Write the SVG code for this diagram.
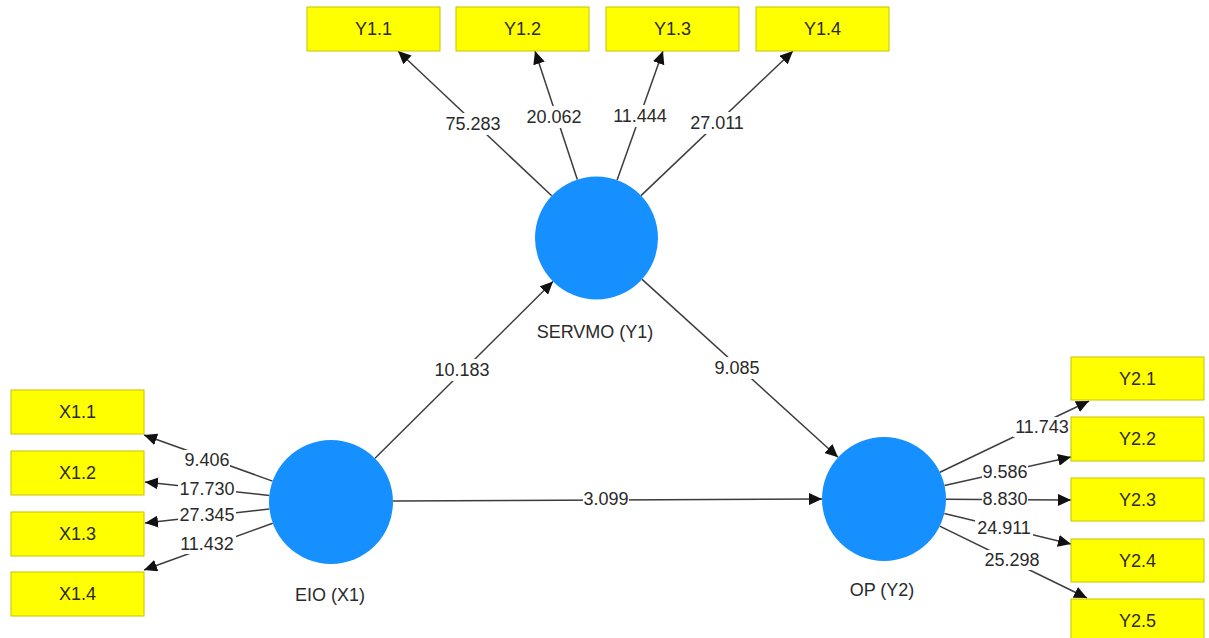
<svg xmlns="http://www.w3.org/2000/svg" width="1209" height="638" viewBox="0 0 1209 638">
  <style>
    text { font-family: "Liberation Sans", Arial, sans-serif; font-size: 18px; fill: #2a2a2a; text-anchor: middle; dominant-baseline: central; }
    .ind rect { fill: #ffff00; stroke: #c8c400; stroke-width: 1; }
    .lv circle { fill: #1690ff; }
    .edge { stroke: #3c3c3c; stroke-width: 1.5; fill: none; marker-end: url(#tip); }
    .bg { fill: #ffffff; }
  </style>
  <defs>
    <marker id="tip" markerUnits="userSpaceOnUse" markerWidth="14" markerHeight="12" refX="13" refY="6" orient="auto">
      <path d="M0,0 L13,6 L0,12 z" fill="#111"/>
    </marker>
  </defs>
  <rect width="1209" height="638" fill="#ffffff"/>

  <!-- connectors: paths, outer loadings, and their value labels -->
  <g id="connectors">
    <!-- structural paths -->
    <line class="edge" x1="375" y1="458.3" x2="553" y2="281.5"/>
    <line class="edge" x1="642.1" y1="279.4" x2="838" y2="457.3"/>
    <line class="edge" x1="393" y1="501" x2="822" y2="499"/>
    <!-- SERVMO (Y1) indicators -->
    <line class="edge" x1="551.7" y1="195.8" x2="398" y2="51"/>
    <line class="edge" x1="577.3" y1="179.6" x2="535" y2="51"/>
    <line class="edge" x1="617.1" y1="180.1" x2="663" y2="51"/>
    <line class="edge" x1="641.0" y1="195.6" x2="793" y2="51"/>
    <!-- EIO (X1) indicators -->
    <line class="edge" x1="272.6" y1="481.1" x2="144" y2="435"/>
    <line class="edge" x1="269.4" y1="495.4" x2="145" y2="482"/>
    <line class="edge" x1="269.4" y1="509.0" x2="145" y2="523"/>
    <line class="edge" x1="272.7" y1="523.2" x2="144" y2="570"/>
    <!-- OP (Y2) indicators -->
    <line class="edge" x1="939.9" y1="472.3" x2="1089" y2="401"/>
    <line class="edge" x1="944.5" y1="485.4" x2="1071" y2="457"/>
    <line class="edge" x1="946" y1="499.3" x2="1071" y2="500"/>
    <line class="edge" x1="944.3" y1="513.5" x2="1071" y2="544"/>
    <line class="edge" x1="939.7" y1="526.2" x2="1087" y2="598"/>

    <!-- value labels -->
    <rect class="bg" x="444" y="113" width="58" height="22"/><text x="473" y="124">75.283</text>
    <rect class="bg" x="525" y="106" width="58" height="22"/><text x="554" y="117">20.062</text>
    <rect class="bg" x="611" y="105" width="58" height="22"/><text x="640" y="116">11.444</text>
    <rect class="bg" x="688" y="112" width="58" height="22"/><text x="717" y="123">27.011</text>
    <rect class="bg" x="433" y="359" width="58" height="22"/><text x="462" y="370">10.183</text>
    <rect class="bg" x="714" y="357" width="46" height="22"/><text x="737" y="368">9.085</text>
    <rect class="bg" x="583" y="488" width="46" height="22"/><text x="606" y="499">3.099</text>

    <rect class="bg" x="184" y="450" width="46" height="20"/><text x="207" y="460">9.406</text>
    <rect class="bg" x="178" y="479" width="58" height="20"/><text x="207" y="489">17.730</text>
    <rect class="bg" x="178" y="505" width="58" height="20"/><text x="207" y="515">27.345</text>
    <rect class="bg" x="178" y="534" width="58" height="20"/><text x="207" y="544">11.432</text>

    <rect class="bg" x="1013" y="417" width="58" height="20"/><text x="1042" y="427">11.743</text>
    <rect class="bg" x="982" y="462" width="46" height="20"/><text x="1005" y="472">9.586</text>
    <rect class="bg" x="982" y="489" width="46" height="20"/><text x="1005" y="499">8.830</text>
    <rect class="bg" x="975" y="518" width="58" height="20"/><text x="1004" y="528">24.911</text>
    <rect class="bg" x="983" y="550" width="58" height="20"/><text x="1012" y="560">25.298</text>
  </g>

  <!-- latent variables -->
  <g id="servmo" class="lv">
    <circle cx="596.5" cy="238" r="61.5"/>
    <text x="595" y="332">SERVMO (Y1)</text>
  </g>
  <g id="eio" class="lv">
    <circle cx="331" cy="502" r="62"/>
    <text x="330" y="595">EIO (X1)</text>
  </g>
  <g id="op" class="lv">
    <circle cx="884" cy="499" r="62"/>
    <text x="882" y="590">OP (Y2)</text>
  </g>

  <!-- indicators of SERVMO (Y1) -->
  <g id="y1_1" class="ind"><rect x="307" y="7" width="133" height="44"/><text x="373.5" y="29">Y1.1</text></g>
  <g id="y1_2" class="ind"><rect x="456" y="7" width="133" height="44"/><text x="522.5" y="29">Y1.2</text></g>
  <g id="y1_3" class="ind"><rect x="606" y="7" width="133" height="44"/><text x="672.5" y="29">Y1.3</text></g>
  <g id="y1_4" class="ind"><rect x="756" y="7" width="133" height="44"/><text x="822.5" y="29">Y1.4</text></g>

  <!-- indicators of EIO (X1) -->
  <g id="x1_1" class="ind"><rect x="11" y="390" width="133" height="44"/><text x="77.5" y="412">X1.1</text></g>
  <g id="x1_2" class="ind"><rect x="11" y="451" width="133" height="44"/><text x="77.5" y="473">X1.2</text></g>
  <g id="x1_3" class="ind"><rect x="11" y="512" width="133" height="44"/><text x="77.5" y="534">X1.3</text></g>
  <g id="x1_4" class="ind"><rect x="11" y="572" width="133" height="44"/><text x="77.5" y="594">X1.4</text></g>

  <!-- indicators of OP (Y2) -->
  <g id="y2_1" class="ind"><rect x="1071" y="357" width="133" height="43"/><text x="1137.5" y="378.5">Y2.1</text></g>
  <g id="y2_2" class="ind"><rect x="1071" y="417" width="133" height="44"/><text x="1137.5" y="439">Y2.2</text></g>
  <g id="y2_3" class="ind"><rect x="1071" y="478" width="133" height="43"/><text x="1137.5" y="499.5">Y2.3</text></g>
  <g id="y2_4" class="ind"><rect x="1071" y="539" width="133" height="43"/><text x="1137.5" y="560.5">Y2.4</text></g>
  <g id="y2_5" class="ind"><rect x="1071" y="599" width="133" height="44"/><text x="1137.5" y="621">Y2.5</text></g>
</svg>
